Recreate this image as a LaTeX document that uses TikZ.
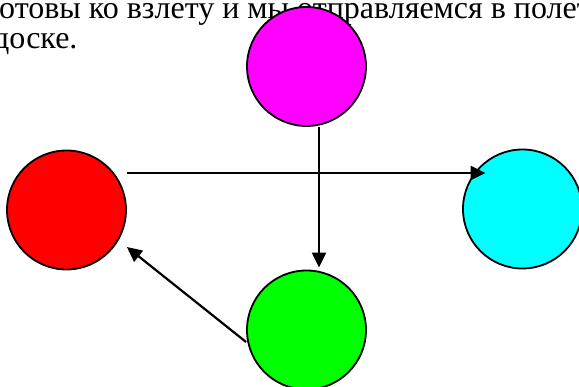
\documentclass[tikz,border=0pt]{standalone}
\usepackage{fontspec}
\setmainfont{Liberation Serif}
\usetikzlibrary{arrows.meta,calc}
\definecolor{ballmagenta}{RGB}{255,0,255}
\definecolor{ballred}{RGB}{255,0,0}
\definecolor{ballcyan}{RGB}{0,255,255}
\definecolor{ballgreen}{RGB}{0,255,0}

\begin{document}
\begin{tikzpicture}[x=1pt,y=-1pt]

      \useasboundingbox (0,0) rectangle (579,387);
      \clip (0,0) rectangle (579,387);

      \begin{scope}[every node/.style={anchor=base west,inner sep=0pt,font=\fontsize{32}{35}\selectfont}]
        \node (t1) at (-1,18.5) {отовы ко взлету и мы отправляемся в полет};
        \node (t2) at (-7,48.5) {доске.};
      \end{scope}

      \begin{scope}[every node/.style={circle,draw,line width=1.8pt,minimum size=119pt,inner sep=0pt}]
        \node[fill=ballmagenta] (m) at (306.5,66.5) {};
        \node[fill=ballred]     (r) at (66.5,210)   {};
        \node[fill=ballcyan]    (c) at (522.5,209)  {};
        \node[fill=ballgreen]   (g) at (306.5,330)  {};
      \end{scope}

      \coordinate (r1) at ([yshift=37pt]r.east);
      \coordinate (r2) at ([yshift=-37pt]r.east);
      \coordinate (c1) at ($(r1 -| c.west)+(23.5,0)$);
      \coordinate (m1) at ([xshift=12.5pt]m.south);
      \coordinate (g1) at ([xshift=12.5pt,yshift=2pt]g.north);
      \coordinate (g2) at ([yshift=-12pt]g.west);

      \begin{scope}[every edge/.style={draw,line width=2.2pt,-{Triangle[length=15pt,width=14pt]}}]
        \path (r1) edge (c1);
        \path (m1) edge (g1);
        \path (g2) edge (r2);
      \end{scope}

    \end{tikzpicture}
\end{document}
